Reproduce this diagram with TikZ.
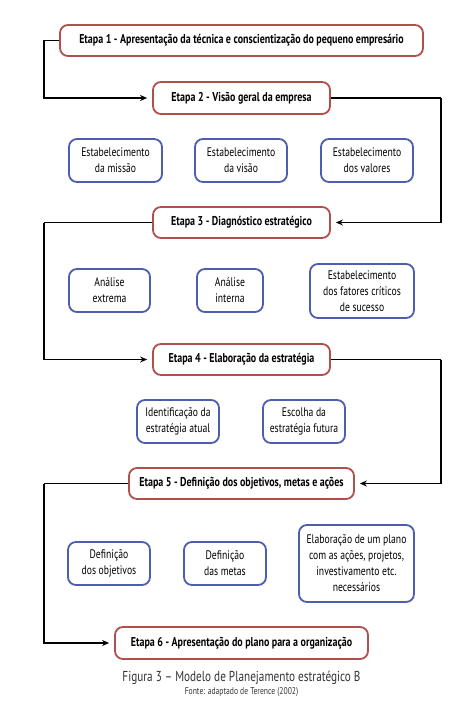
\documentclass[tikz,border=0pt]{standalone}
\usepackage{fontspec}
\setmainfont{PT Sans}[FakeStretch=0.78]
\usetikzlibrary{arrows.meta,calc}
\definecolor{stepred}{HTML}{B0504C}
\definecolor{boxblue}{HTML}{4E5DAD}
\definecolor{capgray}{HTML}{333333}
\begin{document}
\begin{tikzpicture}[x=1pt,y=-1pt,
  etapa/.style={draw=stepred,line width=1.8pt,rounded corners=8pt,fill=white,
    inner sep=0pt,font=\fontsize{12.8}{14}\selectfont\bfseries},
  sub/.style={draw=boxblue,line width=1.8pt,rounded corners=8pt,fill=white,
    inner sep=0pt,align=center,font=\fontsize{12.4}{16}\selectfont},
  conn/.style={draw=black,line width=1.7pt},
  arr/.style={conn,-{Stealth[length=7pt,width=6pt]},shorten >=5pt}]
\useasboundingbox (0,0) rectangle (476,709);
\coordinate (L) at (44,0);
\coordinate (R) at (441,0);
% Etapa nodes
\node[etapa,minimum width=363pt,minimum height=31pt] (e1) at (241.5,40.5) {Etapa 1 - Apresentação da técnica e conscientização do pequeno empresário};
\node[etapa,minimum width=177pt,minimum height=32pt] (e2) at (241.5,98) {Etapa 2 - Visão geral da empresa};
\node[etapa,minimum width=177pt,minimum height=31pt] (e3) at (241.5,222.5) {Etapa 3 - Diagnóstico estratégico};
\node[etapa,minimum width=177pt,minimum height=31pt] (e4) at (241.5,359.5) {Etapa 4 - Elaboração da estratégia};
\node[etapa,minimum width=225pt,minimum height=31pt] (e5) at (241.5,483.5) {Etapa 5 - Definição dos objetivos, metas e ações};
\node[etapa,minimum width=253pt,minimum height=32pt] (e6) at (241.5,643) {Etapa 6 - Apresentação do plano para a organização};
% Row 1
\node[sub,minimum width=93pt,minimum height=43pt] (m) at (115.5,160.5) {Estabelecimento\\da missão};
\node[sub,minimum width=92pt,minimum height=43pt] (v) at (241,160.5) {Estabelecimento\\da visão};
\node[sub,minimum width=92pt,minimum height=43pt] (va) at (367,160.5) {Estabelecimento\\dos valores};
% Row 2
\node[sub,minimum width=81pt,minimum height=43pt] (ae) at (109.5,290.5) {Análise\\extrema};
\node[sub,minimum width=66pt,minimum height=43pt] (ai) at (230,290.5) {Análise\\interna};
\node[sub,minimum width=104pt,minimum height=54pt] (fc) at (362,291) {Estabelecimento\\dos fatores críticos\\de sucesso};
% Row 3
\node[sub,minimum width=82pt,minimum height=43pt] (ia) at (178,421.5) {Identificação da\\estratégia atual};
\node[sub,minimum width=82pt,minimum height=43pt] (ef) at (304,421.5) {Escolha da\\estratégia futura};
% Row 4
\node[sub,minimum width=82pt,minimum height=43pt] (do) at (109,563.5) {Definição\\dos objetivos};
\node[sub,minimum width=82pt,minimum height=43pt] (dm) at (225,563.5) {Definição\\das metas};
\node[sub,minimum width=115pt,minimum height=77pt] (pl) at (356.5,563.5) {Elaboração de um plano\\com as ações, projetos,\\investivamento etc.\\necessários};
% Connectors
\draw[conn] (e1.west) -- (e1.west -| L) coordinate (c1);
\draw[arr] (c1) |- (e2.west);
\draw[conn] (e2.east) -- (e2.east -| R) coordinate (c2);
\draw[arr] (c2) |- (e3.east);
\draw[conn] (e3.west) -- (e3.west -| L) coordinate (c3);
\draw[arr] (c3) |- (e4.west);
\draw[conn] (e4.east) -- (e4.east -| R) coordinate (c4);
\draw[arr] (c4) |- (e5.east);
\draw[conn] (e5.west) -- (e5.west -| L) coordinate (c5);
\draw[arr] (c5) |- (e6.west);
% Caption
\node[text=capgray,font=\fontsize{14.4}{16}\selectfont] (cap) at (241.5,678) {Figura 3 – Modelo de Planejamento estratégico B};
\node[text=capgray,font=\fontsize{9.8}{11}\selectfont] (src) at (241.5,692.5) {Fonte: adaptado de Terence (2002)};
\end{tikzpicture}
\end{document}
